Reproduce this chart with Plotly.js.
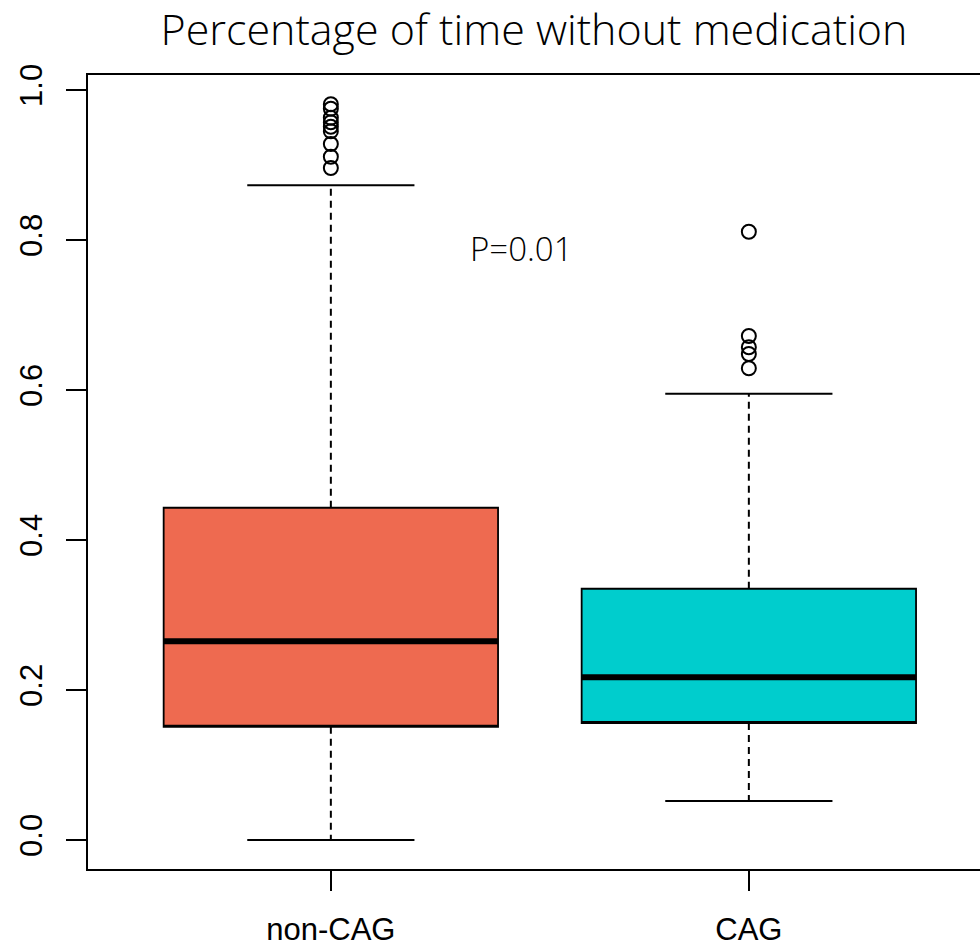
<!DOCTYPE html>
<html>
<head>
<meta charset="utf-8">
<script src="https://cdn.plot.ly/plotly-3.0.1.min.js"></script>
<style>html,body{margin:0;padding:0;background:#fff;}#chart{width:980px;height:946px;}</style>
</head>
<body>
<div id="chart"></div>
<script>
// ---- data ----
var groups = ['non-CAG', 'CAG'];
var boxColors = ['#EE6A50', '#00CDCD'];
var q1 = [0.151, 0.156];
var median = [0.265, 0.217];
var q3 = [0.443, 0.335];
var lowerWhisker = [0.000, 0.052];
var upperWhisker = [0.873, 0.595];
var outliersNonCAG = [0.981, 0.975, 0.963, 0.957, 0.951, 0.945, 0.928, 0.911, 0.896];
var outliersCAG = [0.811, 0.672, 0.657, 0.648, 0.629];
var yTicks = [0, 0.2, 0.4, 0.6, 0.8, 1.0];
var titleText = 'Percentage of time without medication';
var pText = 'P=0.01';

var traces = [];
groups.forEach(function (g, i) {
  // main box (no whiskers)
  traces.push({
    type: 'box', x: [g], q1: [q1[i]], median: [q1[i]], q3: [q3[i]],
    lowerfence: [q1[i]], upperfence: [q3[i]],
    width: 0.8, whiskerwidth: 0, fillcolor: boxColors[i],
    line: {color: '#000', width: 1.8}, boxpoints: false, hoverinfo: 'skip', showlegend: false
  });
  // thick median line
  traces.push({
    type: 'box', x: [g], q1: [median[i]], median: [median[i]], q3: [median[i]],
    lowerfence: [median[i]], upperfence: [median[i]],
    width: 0.8, whiskerwidth: 0, fillcolor: '#000',
    line: {color: '#000', width: 6}, boxpoints: false, hoverinfo: 'skip', showlegend: false
  });
  // whisker caps
  [lowerWhisker[i], upperWhisker[i]].forEach(function (v) {
    traces.push({
      type: 'box', x: [g], q1: [v], median: [v], q3: [v], lowerfence: [v], upperfence: [v],
      width: 0.4, whiskerwidth: 0, fillcolor: '#000',
      line: {color: '#000', width: 2}, boxpoints: false, hoverinfo: 'skip', showlegend: false
    });
  });
  // dashed whiskers
  traces.push({
    type: 'scatter', mode: 'lines', x: [g, g, null, g, g],
    y: [q3[i], upperWhisker[i], null, q1[i], lowerWhisker[i]],
    line: {color: '#000', width: 2, dash: '7px,5px'}, hoverinfo: 'skip', showlegend: false
  });
});
// outliers
traces.push({
  type: 'scatter', mode: 'markers',
  x: outliersNonCAG.map(function () { return groups[0]; }).concat(outliersCAG.map(function () { return groups[1]; })),
  y: outliersNonCAG.concat(outliersCAG),
  marker: {symbol: 'circle-open', size: 14, color: '#000', line: {width: 2, color: '#000'}},
  hoverinfo: 'skip', showlegend: false
});

var layout = {
  width: 980, height: 946,
  margin: {l: 88, r: 0, t: 75, b: 77},
  paper_bgcolor: '#fff', plot_bgcolor: '#fff',
  boxmode: 'overlay',
  title: {
    text: titleText, x: 0.5, xref: 'paper', xanchor: 'center',
    y: 0.968, yref: 'container', yanchor: 'middle',
    font: {family: 'Open Sans', size: 43, color: '#000', weight: 300}
  },
  xaxis: {
    type: 'category', categoryorder: 'array', categoryarray: groups,
    range: [-0.581, 1.553], fixedrange: true,
    showline: true, linecolor: '#000', linewidth: 2, mirror: true,
    ticks: 'outside', ticklen: 20, tickwidth: 2, tickcolor: '#000',
    showgrid: false, zeroline: false,
    ticklabelstandoff: 12,
    tickfont: {family: 'Liberation Sans, Arial', size: 31, color: '#000'}
  },
  yaxis: {
    range: [-0.0387, 1.02], fixedrange: true,
    showline: true, linecolor: '#000', linewidth: 2, mirror: false,
    ticks: 'outside', ticklen: 20, tickwidth: 2, tickcolor: '#000',
    tickvals: yTicks, tickformat: '.1f', tickangle: -90,
    showgrid: false, zeroline: false,
    ticklabelstandoff: 12,
    tickfont: {family: 'Liberation Sans, Arial', size: 31, color: '#000'}
  },
  annotations: [{
    text: pText, xref: 'paper', yref: 'paper', x: (521 - 88) / 892, y: (869 - 249) / 794,
    showarrow: false, xanchor: 'center', yanchor: 'middle',
    font: {family: 'Open Sans', size: 33, color: '#000', weight: 300}
  }]
};

Plotly.newPlot('chart', traces, layout, {displayModeBar: false, staticPlot: true});
</script>
</body>
</html>
